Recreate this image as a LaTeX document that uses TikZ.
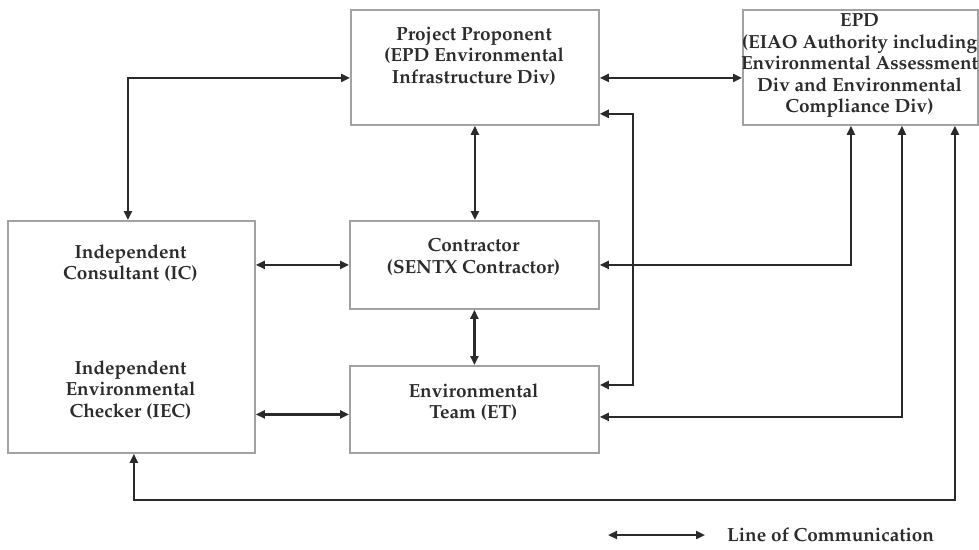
\documentclass[tikz,border=0pt]{standalone}
\usepackage[T1]{fontenc}
\renewcommand\rmdefault{ppl}
\usetikzlibrary{arrows.meta}
\definecolor{boxgray}{HTML}{A2A2A2}
\definecolor{ink}{HTML}{2A2A2A}
\definecolor{txtc}{HTML}{2C2C2C}
\tikzset{
  box/.style={draw=boxgray, line width=1.8pt, rectangle, anchor=north west, inner sep=0pt},
  lbl/.style={text=txtc, font=\fontsize{19}{21.5}\selectfont\bfseries, align=center, inner sep=0pt},
  conn/.style={draw=ink, line width=2.2pt, {Triangle[length=9pt,width=8pt]}-{Triangle[length=9pt,width=8pt]}},
}
\begin{document}
\begin{tikzpicture}[x=1pt,y=-1pt]
\useasboundingbox (0,0) rectangle (979,549);
% boxes
\node[box, minimum width=248pt, minimum height=115pt] (pp)  at (350,9) {};
\node[box, minimum width=235pt, minimum height=115pt] (epd) at (742,9) {};
\node[box, minimum width=247pt, minimum height=232pt] (ic)  at (7,220) {};
\node[box, minimum width=249pt, minimum height=88pt]  (con) at (349,220) {};
\node[box, minimum width=249pt, minimum height=87pt]  (et)  at (349,365) {};
% texts
\node[lbl] (ppt)  at (474,56)  {Project Proponent\\(EPD Environmental\\Infrastructure Div)};
\node[lbl] (epdt) at (859.5,66) {EPD\\(EIAO Authority including\\Environmental Assessment\\Div and Environmental\\Compliance Div)};
\node[lbl] (ict)  at (130.5,263) {Independent\\Consultant (IC)};
\node[lbl] (iect) at (130.5,390) {Independent\\Environmental\\Checker (IEC)};
\node[lbl] (cont) at (473.5,257) {Contractor\\(SENTX Contractor)};
\node[lbl] (ett)  at (473.5,402) {Environmental\\Team (ET)};
% connectors
\draw[conn] ([xshift=-3.5pt]ic.north) |- ([yshift=-10.5pt]pp.west);
\draw[conn] ([yshift=-10.5pt]pp.east) -- ([yshift=-10.5pt]epd.west);
\draw[conn] (pp.south) -- (pp.south |- con.north);
\draw[conn] (con.south) -- (et.north);
\draw[conn] (con.west -| ic.east) -- (con.west);
\draw[conn] ([yshift=-5pt]et.west -| ic.east) -- ([yshift=-5pt]et.west);
\draw[conn] ([yshift=-20pt]et.north east) -- ++(33,0) |- ([yshift=12pt]pp.south east);
\draw[conn] ([xshift=-9.5pt]epd.south) |- (con.east);
\draw[conn] ([xshift=41.5pt]epd.south) |- ([yshift=-7.5pt]et.east);
\draw[conn] ([xshift=94.5pt]epd.south) -- ++(0,374) -| ([xshift=2.5pt]ic.south);
% legend
\coordinate (la) at (608,535);
\coordinate (lb) at (705,535);
\draw[conn] (la) -- (lb);
\node[lbl, anchor=west] (leg) at (727,535) {Line of Communication};
\end{tikzpicture}
\end{document}
